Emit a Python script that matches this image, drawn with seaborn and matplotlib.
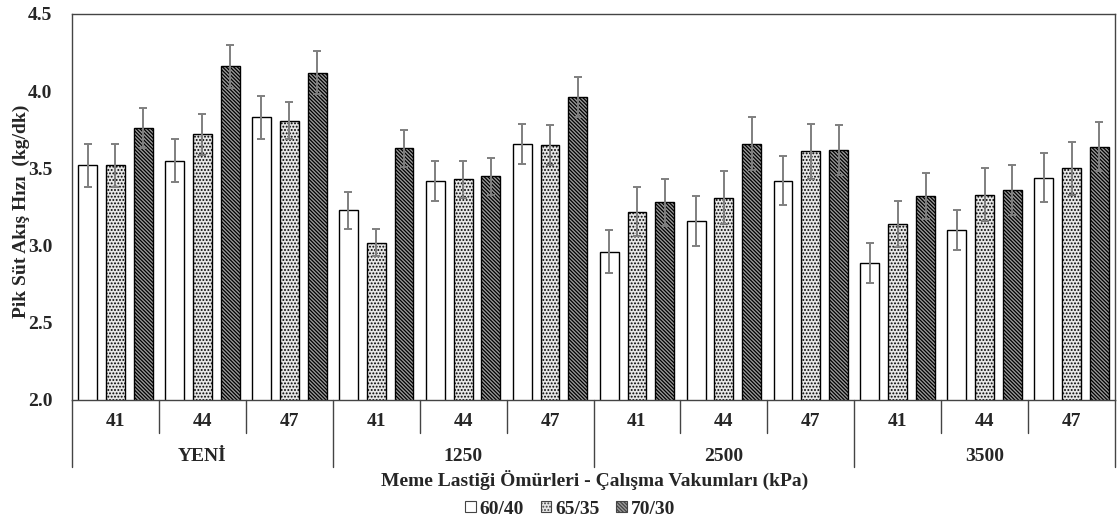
import matplotlib
matplotlib.use("Agg")
import matplotlib.pyplot as plt
import matplotlib.transforms as mtransforms
from matplotlib.patches import Patch
import seaborn as sns
import pandas as pd
import numpy as np

# ---- data ----
ages = ["YENİ", "1250", "2500", "3500"]
vacuums = ["41", "44", "47"]
ratios = ["60/40", "65/35", "70/30"]

# mean peak milk flow (kg/dk), ordered age -> vacuum
mean_6040 = [3.52, 3.55, 3.83, 3.23, 3.42, 3.66, 2.96, 3.16, 3.42, 2.89, 3.10, 3.44]
mean_6535 = [3.52, 3.72, 3.81, 3.02, 3.43, 3.65, 3.22, 3.31, 3.61, 3.14, 3.33, 3.50]
mean_7030 = [3.76, 4.16, 4.12, 3.63, 3.45, 3.96, 3.28, 3.66, 3.62, 3.32, 3.36, 3.64]

err_6040 = [0.14, 0.14, 0.14, 0.12, 0.13, 0.13, 0.14, 0.16, 0.16, 0.13, 0.13, 0.16]
err_6535 = [0.14, 0.13, 0.12, 0.09, 0.12, 0.13, 0.16, 0.17, 0.18, 0.15, 0.17, 0.17]
err_7030 = [0.13, 0.14, 0.14, 0.12, 0.12, 0.13, 0.15, 0.17, 0.16, 0.15, 0.16, 0.16]

ylabel = "Pik Süt Akış Hızı  (kg/dk)"
xlabel = "Meme Lastiği Ömürleri - Çalışma Vakumları (kPa)"
yticks = [2.0, 2.5, 3.0, 3.5, 4.0, 4.5]

# ---- build table ----
cats = [f"{a}|{v}" for a in ages for v in vacuums]
rows = []
for r, means, errs in zip(ratios, [mean_6040, mean_6535, mean_7030],
                          [err_6040, err_6535, err_7030]):
    for c, m, e in zip(cats, means, errs):
        rows.append({"cat": c, "ratio": r, "value": m, "err": e})
df = pd.DataFrame(rows)

# ---- style ----
sns.set_theme(style="white")
plt.rcParams["font.family"] = ["Liberation Serif", "DejaVu Serif"]
plt.rcParams["font.weight"] = "bold"
plt.rcParams["hatch.linewidth"] = 0.9
FS = 14

fig = plt.figure(figsize=(11.17, 5.27), dpi=100)
ax = fig.add_axes([72 / 1117, 1 - 400 / 527, (1115 - 72) / 1117, (400 - 14) / 527])

faces = {"60/40": "white", "65/35": "#e6e6e6", "70/30": "#9a9a9a"}
hatches = {"60/40": "", "65/35": ".....", "70/30": "\\" * 9}
hatchcols = {"60/40": "black", "65/35": "#9a9a9a", "70/30": "#1a1a1a"}

sns.barplot(data=df, x="cat", y="value", hue="ratio", order=cats,
            hue_order=ratios, palette=faces, width=0.96, gap=0.32,
            errorbar=None, edgecolor="black", linewidth=1.0, ax=ax,
            legend=False, saturation=1)

for cont, r in zip(ax.containers, ratios):
    sub = df[df["ratio"] == r].set_index("cat").loc[cats]
    xs, ys = [], []
    for p in cont.patches:
        p.set_hatch(hatches[r])
        if hasattr(p, "set_hatchcolor"):
            p.set_hatchcolor(hatchcols[r])
        p.set_edgecolor("black")
        xs.append(p.get_x() + p.get_width() / 2)
        ys.append(p.get_height())
    ax.errorbar(xs, ys, yerr=sub["err"].values, fmt="none", ecolor="#7f7f7f",
                elinewidth=1.4, capsize=3, capthick=1.4, zorder=5)

ax.set_ylim(2.0, 4.5)
ax.set_yticks(yticks)
ax.set_yticklabels([f"{t:.1f}" for t in yticks], fontsize=FS, fontweight="bold")
ax.tick_params(axis="y", length=0, pad=14)
ax.set_xlim(-0.5, len(cats) - 0.5)
ax.set_xticks([])
ax.set_xlabel("")
ax.set_ylabel(ylabel, fontsize=FS, fontweight="bold")
ax.yaxis.set_label_coords((30 - 72) / 1043, 0.49)
for s in ax.spines.values():
    s.set_color("#444444")
    s.set_linewidth(1.0)

# multi-level category axis
trans = mtransforms.blended_transform_factory(ax.transData, ax.transAxes)
ah = 386.7
for i, c in enumerate(cats):
    ax.text(i, -22 / ah, c.split("|")[1], transform=trans, ha="center",
            va="center", fontsize=FS, fontweight="bold")
for b in np.arange(-0.5, len(cats), 1.0):
    is_group = (b + 0.5) % 3 == 0
    y1 = -67 / ah if is_group else -33 / ah
    ax.plot([b, b], [0, y1], transform=trans, color="#444444", lw=1.0,
            clip_on=False)
for g, a in enumerate(ages):
    ax.text(g * 3 + 1, -57 / ah, a, transform=trans, ha="center", va="center",
            fontsize=FS, fontweight="bold")

fig.text(595 / 1117, 1 - 480 / 527, xlabel, ha="center", va="center",
         fontsize=FS, fontweight="bold")

handles = []
for r in ratios:
    h = Patch(facecolor=faces[r], edgecolor="#444444", hatch=hatches[r],
              linewidth=0.8, label=r)
    if hasattr(h, "set_hatchcolor"):
        h.set_hatchcolor(hatchcols[r])
    handles.append(h)
fig.legend(handles=handles, loc="center", bbox_to_anchor=(570 / 1117, 1 - 509 / 527),
           ncol=3, frameon=False, handlelength=0.55,
           handleheight=0.55, handletextpad=0.2, columnspacing=0.85,
           prop={"weight": "bold", "size": FS})

fig.savefig("out.png", dpi=100)
